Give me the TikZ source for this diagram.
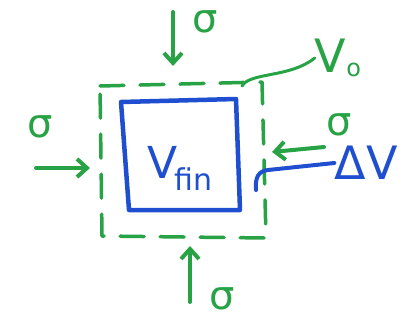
\documentclass[tikz,border=0pt]{standalone}
\usepackage{fontspec}
\setmainfont{DejaVu Sans}
\usepackage{xcolor}
\usepackage{tikz}
\usetikzlibrary{arrows.meta,positioning}
\definecolor{skGreen}{HTML}{27A244}
\definecolor{skBlue}{HTML}{1F4FD0}
\tikzset{
  sk diagram/.style={line cap=round, line join=round},
  sk stress/.style={-{Straight Barb[length=10pt,width=18pt]}, draw=skGreen, line width=4pt},
  sk sigma/.style={text=skGreen, font=\fontsize{40}{40}\selectfont, inner sep=0pt},
  sk start/.style={draw=skGreen, line width=3.5pt, dash pattern=on 24pt off 16pt},
  sk final/.style={draw=skBlue, line width=4.5pt},
  sk lead/.style={line width=3pt}
}
\begin{document}
\begin{tikzpicture}[sk diagram,x=1pt,y=-1pt]
\useasboundingbox (0,0) rectangle (403,321);
% initial volume (dashed) and final volume
\draw[sk start] (100,86) -- (262,82) -- (266,238) -- (102,236) -- cycle;
\draw[sk final] (121,102) -- (236,99) -- (240,210) -- (129,210) -- cycle;
\node[text=skBlue, font=\fontsize{44}{44}\selectfont, inner sep=0pt] (vfin) at (180,168) {V\kern-3pt\raisebox{-12pt}{\fontsize{30}{30}\selectfont fin}};
% stresses
\node[sk sigma] (sTop) at (205,22) {σ};
\node[sk sigma] (sBot) at (222,299) {σ};
\node[sk sigma] (sLeft) at (40,127) {σ};
\node[sk sigma] (sRight) at (339,125) {σ};
\coordinate (aTop) at (173,12);
\coordinate (bTop) at (173,66);
\coordinate (aBot) at (190,302);
\coordinate (bBot) at (190,246);
\coordinate (aLeft) at (36,168);
\coordinate (bLeft) at (90,168);
\coordinate (aRight) at (324,147);
\coordinate (bRight) at (272,152);
\draw[sk stress] (aTop) -- (bTop);
\draw[sk stress] (aBot) -- (bBot);
\draw[sk stress] (aLeft) -- (bLeft);
\draw[sk stress] (aRight) -- (bRight);
% labels
\node[text=skGreen, font=\fontsize{46}{46}\selectfont, inner sep=0pt] (vzero) at (338,58) {V\raisebox{-4pt}{\fontsize{24}{24}\selectfont o}};
\node[text=skBlue, font=\fontsize{46}{46}\selectfont, inner sep=0pt] (dv) at (366,163) {ΔV};
\coordinate (vzeroEnd) at (242,86);
\coordinate (dvEnd) at (256,190);
\draw[sk lead, draw=skGreen] (vzeroEnd) .. controls (250,72) and (290,78) .. (vzero.west);
\draw[sk lead, draw=skBlue, line width=4pt] (dv.west) -- (268,170) .. controls (258,171) and (255,178) .. (dvEnd);
\end{tikzpicture}
\end{document}
